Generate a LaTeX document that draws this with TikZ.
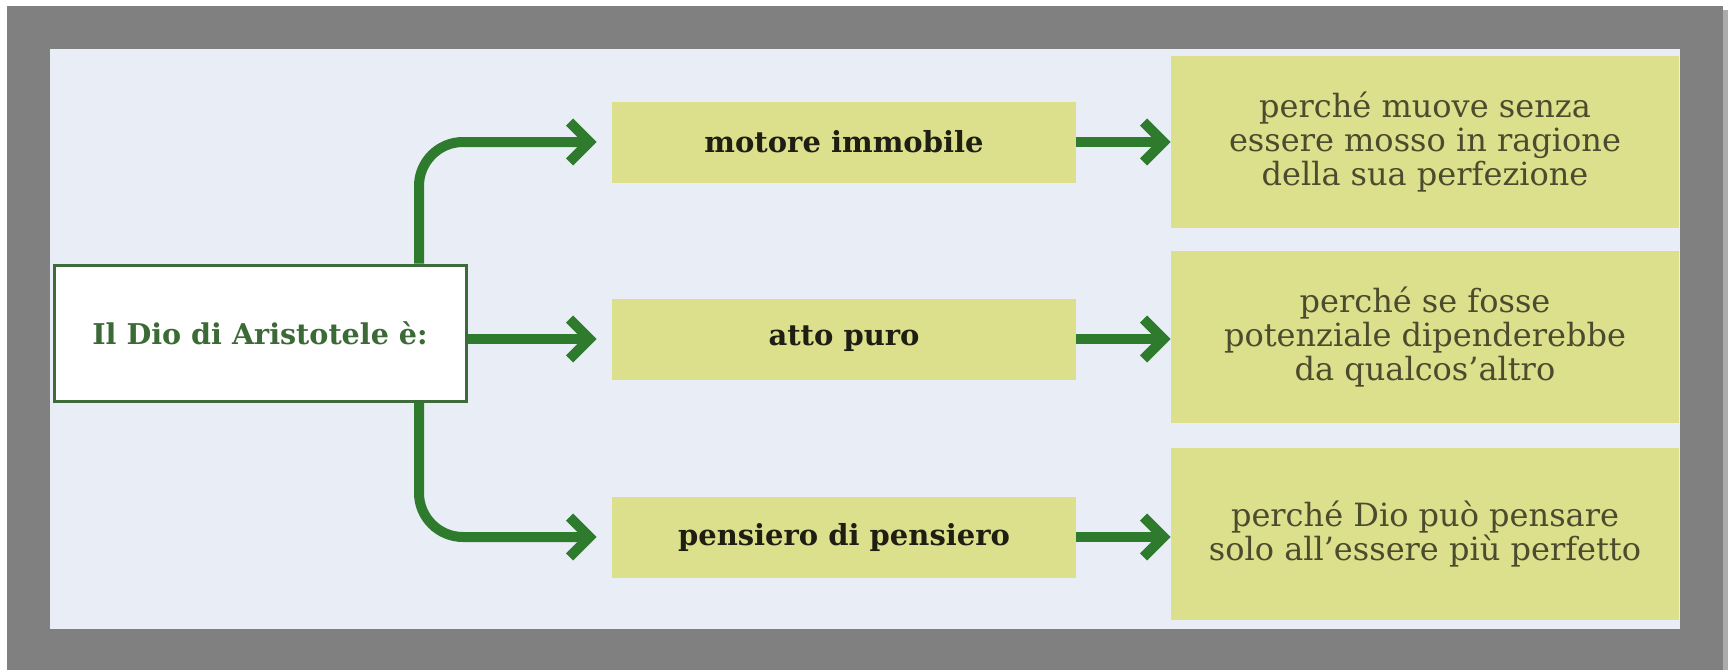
\documentclass[tikz,border=0pt]{standalone}
\usepackage{fontspec}
\setmainfont{DejaVu Serif}
\usetikzlibrary{positioning,arrows.meta}

\definecolor{cornice}{HTML}{808080}
\definecolor{ombra}{HTML}{ABABAB}
\definecolor{sfondo}{HTML}{E9EEF6}
\definecolor{giallo}{HTML}{DCE08D}
\definecolor{verde}{HTML}{2E7B2D}
\definecolor{verdebordo}{HTML}{3D6B3A}
\definecolor{testoverde}{HTML}{3C6A36}
\definecolor{testoscuro}{HTML}{1E1E12}
\definecolor{testoolivo}{HTML}{4B4B2E}

\begin{document}
\begin{tikzpicture}[x=0.5pt,y=-0.5pt]
	\tikzstyle{voce} = [fill=giallo, minimum width=232pt, minimum height=40.5pt, text=testoscuro, font=\fontsize{14.5}{17}\selectfont\bfseries]
	\tikzstyle{motivo} = [fill=giallo, minimum width=254pt, minimum height=86pt, align=center, text=testoolivo, font=\fontsize{16}{17}\selectfont]
	\tikzstyle{freccia} = [draw=verde, line width=5pt, -{Straight Barb[length=10pt,width=20pt]}]

	\useasboundingbox (0,0) rectangle (1734,670);
	\fill[cornice] (7,6) rectangle (1723,670);
	\fill[ombra] (1723,10) rectangle (1728,670);
	\fill[sfondo] (50,49) rectangle (1680,629);

	\node[draw=verdebordo, line width=1.5pt, fill=white, minimum width=206pt, minimum height=68pt, text=testoverde, font=\fontsize{14.3}{16}\selectfont\bfseries] (dio) at (260,333) {Il Dio di Aristotele è:};

	\node[voce] (motore) at (844,142) {motore immobile};
	\node[voce] (atto) at (844,339) {atto puro};
	\node[voce] (pensiero) at (844,537) {pensiero di pensiero};

	\node[motivo] (motivo1) at (1425,142) {perché muove senza\\essere mosso in ragione\\della sua perfezione};
	\node[motivo] (motivo2) at (1425,337) {perché se fosse\\potenziale dipenderebbe\\da qualcos'altro};
	\node[motivo] (motivo3) at (1425,534) {perché Dio può pensare\\solo all'essere più perfetto};

	\coordinate (tronco) at (419,333);
	\draw[freccia, rounded corners=22pt, shorten >=7.5pt] (dio.north -| tronco) |- (motore.west);
	\draw[freccia, shorten >=7.5pt] (dio.east |- atto.west) -- (atto.west);
	\draw[freccia, rounded corners=22pt, shorten >=7.5pt] (dio.south -| tronco) |- (pensiero.west);

	\draw[freccia] (motore.east) -- (motore.east -| motivo1.west);
	\draw[freccia] (atto.east) -- (atto.east -| motivo2.west);
	\draw[freccia] (pensiero.east) -- (pensiero.east -| motivo3.west);
\end{tikzpicture}
\end{document}
